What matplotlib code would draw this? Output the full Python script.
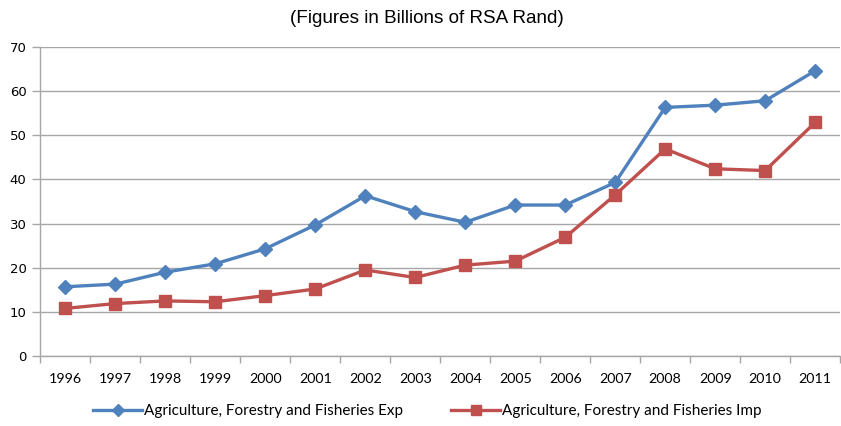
import numpy as np
import matplotlib
matplotlib.use('Agg')
import matplotlib.pyplot as plt

years = ['1996', '1997', '1998', '1999', '2000', '2001', '2002', '2003',
         '2004', '2005', '2006', '2007', '2008', '2009', '2010', '2011']
exports = [15.7, 16.3, 19.0, 20.9, 24.3, 29.7, 36.3, 32.7,
           30.3, 34.2, 34.2, 39.3, 56.3, 56.8, 57.8, 64.6]
imports = [10.8, 11.9, 12.5, 12.3, 13.7, 15.2, 19.5, 17.8,
           20.6, 21.5, 26.9, 36.5, 46.9, 42.4, 42.0, 52.9]

grid_col = '#a6a6a6'

fig = plt.figure(figsize=(8.41, 4.26), dpi=100)
ax = fig.add_axes([0.048, 0.164, 0.951, 0.726])

x = np.arange(len(years))
ax.plot(x, exports, color='#4f81bd', lw=2.4, marker='D', ms=7,
        label='Agriculture, Forestry and Fisheries Exp', zorder=3)
ax.plot(x, imports, color='#c0504d', lw=2.4, marker='s', ms=8.5,
        label='Agriculture, Forestry and Fisheries Imp', zorder=3)

ax.set_ylim(0, 70)
ax.set_yticks(range(0, 71, 10))
ax.set_xlim(-0.5, len(years) - 0.5)
ax.set_xticks(np.arange(-0.5, len(years), 1))
ax.set_xticklabels([])
ax.set_xticks(x, minor=True)
ax.set_xticklabels(years, minor=True, fontfamily='Lato', fontsize=10.3)
ax.tick_params(axis='x', which='minor', length=0, pad=12)
ax.tick_params(axis='x', which='major', length=5, color=grid_col, width=1)
ax.tick_params(axis='y', length=6, color=grid_col, width=1, pad=4)
for lbl in ax.get_yticklabels():
    lbl.set_fontfamily('DejaVu Sans')
    lbl.set_fontsize(9.5)

ax.grid(axis='y', color=grid_col, lw=1)
ax.set_axisbelow(True)
for side in ['top', 'right']:
    ax.spines[side].set_visible(False)
for side in ['left', 'bottom']:
    ax.spines[side].set_color(grid_col)
    ax.spines[side].set_linewidth(1)

fig.text(0.507, 0.957, '(Figures in Billions of RSA Rand)', ha='center', va='center',
         fontfamily='Liberation Sans', fontsize=13.6)

fig.legend(loc='center', bbox_to_anchor=(0.508, 0.035), ncol=2, frameon=False,
           prop={'family': 'Lato', 'size': 11}, handlelength=3.2,
           handletextpad=0.1, columnspacing=3.2, markerscale=0.9)

fig.savefig('out.png', dpi=100)
